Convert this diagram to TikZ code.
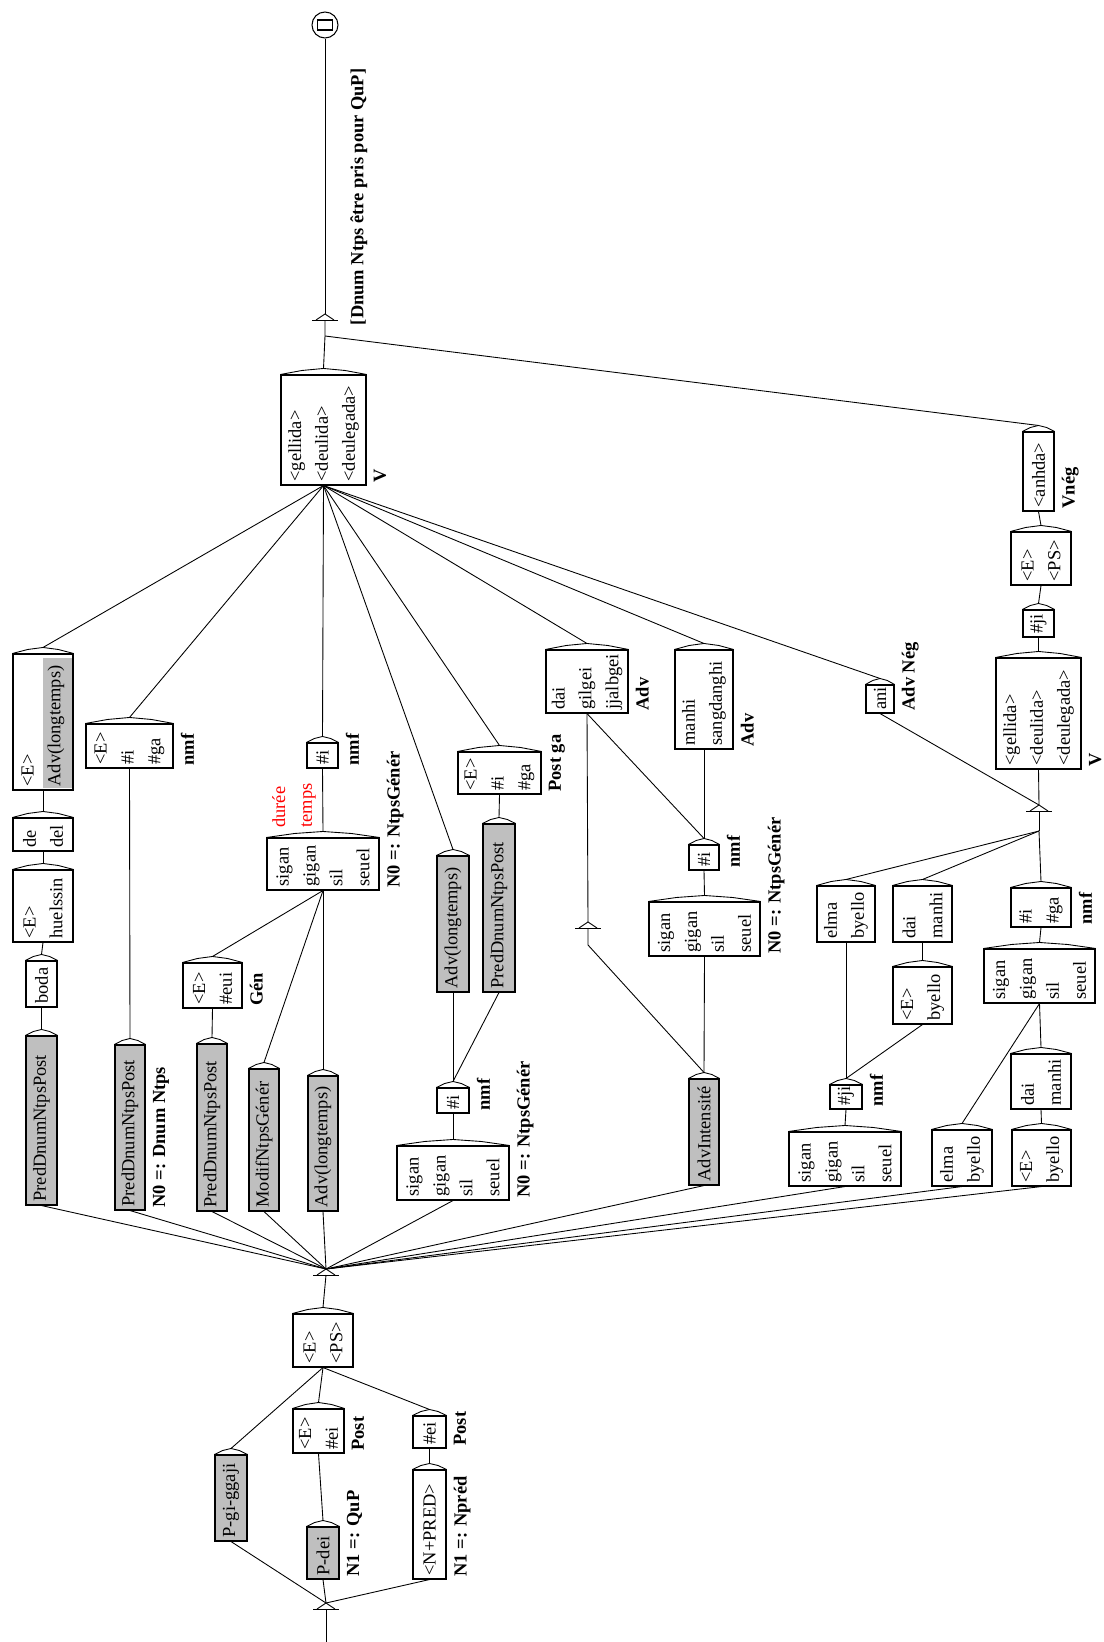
\documentclass[tikz,border=0pt]{standalone}
\usepackage{fontspec}
\setmainfont{Liberation Serif}
\usetikzlibrary{calc}
\newcommand{\boxfont}{\fontsize{10.5}{15.3}\selectfont\hyphenpenalty=10000\exhyphenpenalty=10000\relax}
\newcommand{\labfont}{\fontsize{10.5}{12}\selectfont\bfseries}
\tikzset{
  graphbox/.style={draw,line width=0.6pt,rotate=90,inner xsep=2pt,inner ysep=3pt,align=left,font=\boxfont},
  subcall/.style={fill=black!25},
  outlabel/.style={rotate=90,inner xsep=1.5pt,inner ysep=4pt,font=\labfont},
  remark/.style={rotate=90,inner sep=0pt,align=left,text=red,font=\boxfont},
  hatline/.style={line width=0.5pt},
  link/.style={line width=0.5pt}
}
% box given by its page rectangle x1 y1 x2 y2 (pixels), text turned by 90 degrees
\newcommand{\graphbox}[7][]{%
  \pgfmathsetmacro{\bw}{(#6-#4)*0.02}%
  \pgfmathsetmacro{\bh}{(#5-#3)*0.02}%
  \pgfmathsetmacro{\tw}{(#6-#4)*0.02*28.45274-4}%
  \node[graphbox,#1,minimum width=\bw cm,minimum height=\bh cm,text width=\tw pt] (#2) at ({(#3+#5)/2},{(#4+#6)/2}) {#7};
  \draw[hatline] (#2.north east) -- ($(#2.north east)!.25!(#2.south east)+(0,-4)$) -- ($(#2.east)+(0,-6)$)
    -- ($(#2.north east)!.75!(#2.south east)+(0,-4)$) -- (#2.south east);
  \coordinate (#2o) at ($(#2.east)+(0,-6)$);
}
% empty box mark
\newcommand{\epsmark}[2]{%
  \coordinate (#1) at (#2);
  \coordinate (#1o) at ($(#1)+(0,-6)$);
  \draw[hatline] ($(#1)+(-13,0)$) -- ($(#1)+(13,0)$);
  \draw[hatline] ($(#1)+(-9,0)$) -- (#1o) -- ($(#1)+(9,0)$);
}
\newcommand{\outlab}[3]{\node[outlabel,anchor=north west] (#1) at (#2.south west) {#3};}

\begin{document}
\begin{tikzpicture}[x=0.02cm,y=-0.02cm]
\useasboundingbox (0,0) rectangle (1104,1642);

% final state and main verb
\node[draw,circle,line width=0.6pt,minimum size=0.52cm,inner sep=0pt] (final) at (325,25) {};
\node[draw,line width=0.6pt,inner sep=0pt,minimum width=0.3cm,minimum height=0.2cm] (finalsq) at (final.center) {};
\epsmark{eout}{325,320}
\coordinate (eouti) at (325,336);
\node[outlabel,anchor=north west] (outtxt) at ($(eout)+(18,8)$) {[Dnum Ntps être pris pour QuP]};
\graphbox{V}{281}{375}{366}{485}{<gellida>\\<deulida>\\<deulegada>}
\outlab{Vlab}{V}{V}

% column 1
\fill[black!25] (43,658) rectangle (72,788);
\graphbox{advlt1}{13}{654}{73}{790}{<E>\\Adv(longtemps)}
\graphbox{dedel}{13}{818}{73}{851}{de\\del}
\graphbox{huel}{13}{870}{73}{942}{<E>\\huelssin}
\graphbox{boda}{26}{961}{57}{1007}{boda}
\graphbox[subcall]{pred1}{26}{1036}{57}{1205}{PredDnumNtpsPost}

% column 2
\graphbox{ega1}{86}{724}{173}{768}{<E>\\\#i\\\#ga}
\outlab{ega1lab}{ega1}{nmf}
\graphbox[subcall]{pred2}{115}{1045}{145}{1210}{PredDnumNtpsPost}
\outlab{pred2lab}{pred2}{N0 =: Dnum Ntps}

% column 3
\graphbox{i1}{307}{743}{338}{768}{\#i}
\outlab{i1lab}{i1}{nmf}
\node[remark,anchor=west] (cmt) at (294,828) {durée\\temps};
\graphbox{sig1}{267}{838}{379}{890}{sigan\\gigan\\sil\\seuel}
\outlab{sig1lab}{sig1}{N0 =: NtpsGénér}
\graphbox{eeui}{183}{963}{242}{1008}{<E>\\\#eui}
\outlab{eeuilab}{eeui}{Gén}
\graphbox[subcall]{pred3}{197}{1044}{227}{1211}{PredDnumNtpsPost}
\graphbox[subcall]{modif}{249}{1069}{279}{1211}{ModifNtpsGénér}
\graphbox[subcall]{advlt2}{308}{1076}{338}{1211}{Adv(longtemps)}

% column 4
\graphbox[subcall]{advlt3}{437}{856}{469}{992}{Adv(longtemps)}
\graphbox[subcall]{pred4}{483}{824}{515}{992}{PredDnumNtpsPost}
\graphbox{ega2}{458}{752}{541}{794}{<E>\\\#i\\\#ga}
\outlab{ega2lab}{ega2}{Post ga}
\graphbox{i2}{437}{1088}{469}{1113}{\#i}
\outlab{i2lab}{i2}{nmf}
\graphbox{sig3}{397}{1146}{509}{1200}{sigan\\gigan\\sil\\seuel}
\outlab{sig3lab}{sig3}{N0 =: NtpsGénér}

% column 5
\graphbox{dai1}{546}{650}{628}{713}{dai\\gilgei\\jjalbgei}
\outlab{dai1lab}{dai1}{Adv}
\graphbox{manhi}{675}{650}{733}{749}{manhi\\sangdanghi}
\outlab{manhilab}{manhi}{Adv}
\epsmark{eps2}{588,928}
\coordinate (eps2i) at (588,945);
\graphbox{i3}{689}{845}{719}{870}{\#i}
\outlab{i3lab}{i3}{nmf}
\graphbox{sig2}{649}{902}{760}{956}{sigan\\gigan\\sil\\seuel}
\outlab{sig2lab}{sig2}{N0 =: NtpsGénér}
\graphbox[subcall]{advint}{689}{1079}{719}{1185}{AdvIntensité}

% negative branch
\graphbox{anhda}{1023}{432}{1054}{511}{<anhda>}
\outlab{anhdalab}{anhda}{Vnég}
\graphbox{eps3}{1011}{532}{1071}{585}{<E>\\<PS>}
\graphbox{ji1}{1023}{610}{1054}{637}{\#ji}
\graphbox{V2}{996}{658}{1081}{769}{<gellida>\\<deulida>\\<deulegada>}
\outlab{V2lab}{V2}{V}
\epsmark{em3}{1039,811}
\coordinate (em3i) at (1039,831);
\graphbox{ani}{866}{685}{894}{713}{ani}
\outlab{anilab}{ani}{Adv Nég}
\graphbox{elma1}{817}{886}{875}{942}{elma\\byello}
\graphbox{daim1}{893}{886}{952}{942}{dai\\manhi}
\graphbox{ega3}{1011}{888}{1071}{927}{\#i\\\#ga}
\outlab{ega3lab}{ega3}{nmf}
\graphbox{ebye1}{893}{967}{952}{1024}{<E>\\byello}
\graphbox{sig4}{984}{949}{1095}{1003}{sigan\\gigan\\sil\\seuel}
\graphbox{ji2}{830}{1085}{862}{1109}{\#ji}
\outlab{ji2lab}{ji2}{nmf}
\graphbox{daim2}{1011}{1054}{1071}{1109}{dai\\manhi}
\graphbox{sig5}{789}{1132}{901}{1186}{sigan\\gigan\\sil\\seuel}
\graphbox{elma2}{932}{1130}{992}{1186}{elma\\byello}
\graphbox{ebye2}{1012}{1130}{1071}{1186}{<E>\\byello}

% start of the graph
\epsmark{hub}{326,1275}
\graphbox{eps4}{293}{1314}{353}{1367}{<E>\\<PS>}
\graphbox{eei}{293}{1409}{344}{1453}{<E>\\\#ei}
\outlab{eeilab}{eei}{Post}
\graphbox[subcall]{pgi}{215}{1455}{247}{1541}{P-gi-ggaji}
\graphbox[subcall]{pdei}{307}{1527}{339}{1579}{P-dei}
\outlab{pdeilab}{pdei}{N1 =: QuP}
\graphbox{ei}{413}{1416}{446}{1448}{\#ei}
\outlab{eilab}{ei}{Post}
\graphbox{npred}{413}{1470}{446}{1579}{<N+PRED>}
\outlab{npredlab}{npred}{N1 =: Npréd}
\epsmark{init}{326,1609}
\coordinate (start) at (326,1642);

% connectors
\draw[link] (start) -- (init);
\foreach \t in {pgi,pdei,npred} \draw[link] (inito) -- (\t.west);
\draw[link] (pdeio) -- (eei.west);
\draw[link] (npredo) -- (ei.west);
\foreach \s in {pgi,eei,ei} \draw[link] (\s o) -- (eps4.west);
\draw[link] (eps4o) -- (hub);
\foreach \t in {pred1,pred2,pred3,modif,advlt2,sig3,advint,sig5,elma2,ebye2} \draw[link] (hubo) -- (\t.west);
\draw[link] (pred1o) -- (boda.west);
\draw[link] (bodao) -- (huel.west);
\draw[link] (huelo) -- (dedel.west);
\draw[link] (dedelo) -- (advlt1.west);
\draw[link] (pred2o) -- (ega1.west);
\draw[link] (pred3o) -- (eeui.west);
\foreach \s in {eeui,modif,advlt2} \draw[link] (\s o) -- (sig1.west);
\draw[link] (sig1o) -- (i1.west);
\draw[link] (sig3o) -- (i2.west);
\foreach \t in {advlt3,pred4} \draw[link] (i2o) -- (\t.west);
\draw[link] (pred4o) -- (ega2.west);
\draw[link] (advinto) -- (sig2.west);
\draw[link] (advinto) -- (eps2i) -- (eps2);
\draw[link] (eps2o) -- (dai1.west);
\draw[link] (sig2o) -- (i3.west);
\foreach \t in {dai1,manhi} \draw[link] (i3o) -- (\t.west);
\foreach \s in {advlt1,ega1,i1,advlt3,ega2,dai1,manhi,ani} \draw[link] (\s o) -- (V.west);
\draw[link] (Vo) -- (eouti) -- (eout);
\draw[link] (anhdao) -- (eouti);
\draw[link] (eouto) -- (final.south);
\draw[link] (eps3o) -- (anhda.west);
\draw[link] (ji1o) -- (eps3.west);
\draw[link] (V2o) -- (ji1.west);
\draw[link] (em3o) -- (V2.west);
\draw[link] (em3o) -- (ani.west);
\foreach \s in {elma1,daim1,ega3} \draw[link] (\s o) -- (em3i);
\draw[link] (em3i) -- (em3);
\draw[link] (ebye1o) -- (daim1.west);
\foreach \t in {elma1,ebye1} \draw[link] (ji2o) -- (\t.west);
\draw[link] (sig5o) -- (ji2.west);
\draw[link] (sig4o) -- (ega3.west);
\foreach \s in {daim2,elma2} \draw[link] (\s o) -- (sig4.west);
\draw[link] (ebye2o) -- (daim2.west);
\end{tikzpicture}
\end{document}
